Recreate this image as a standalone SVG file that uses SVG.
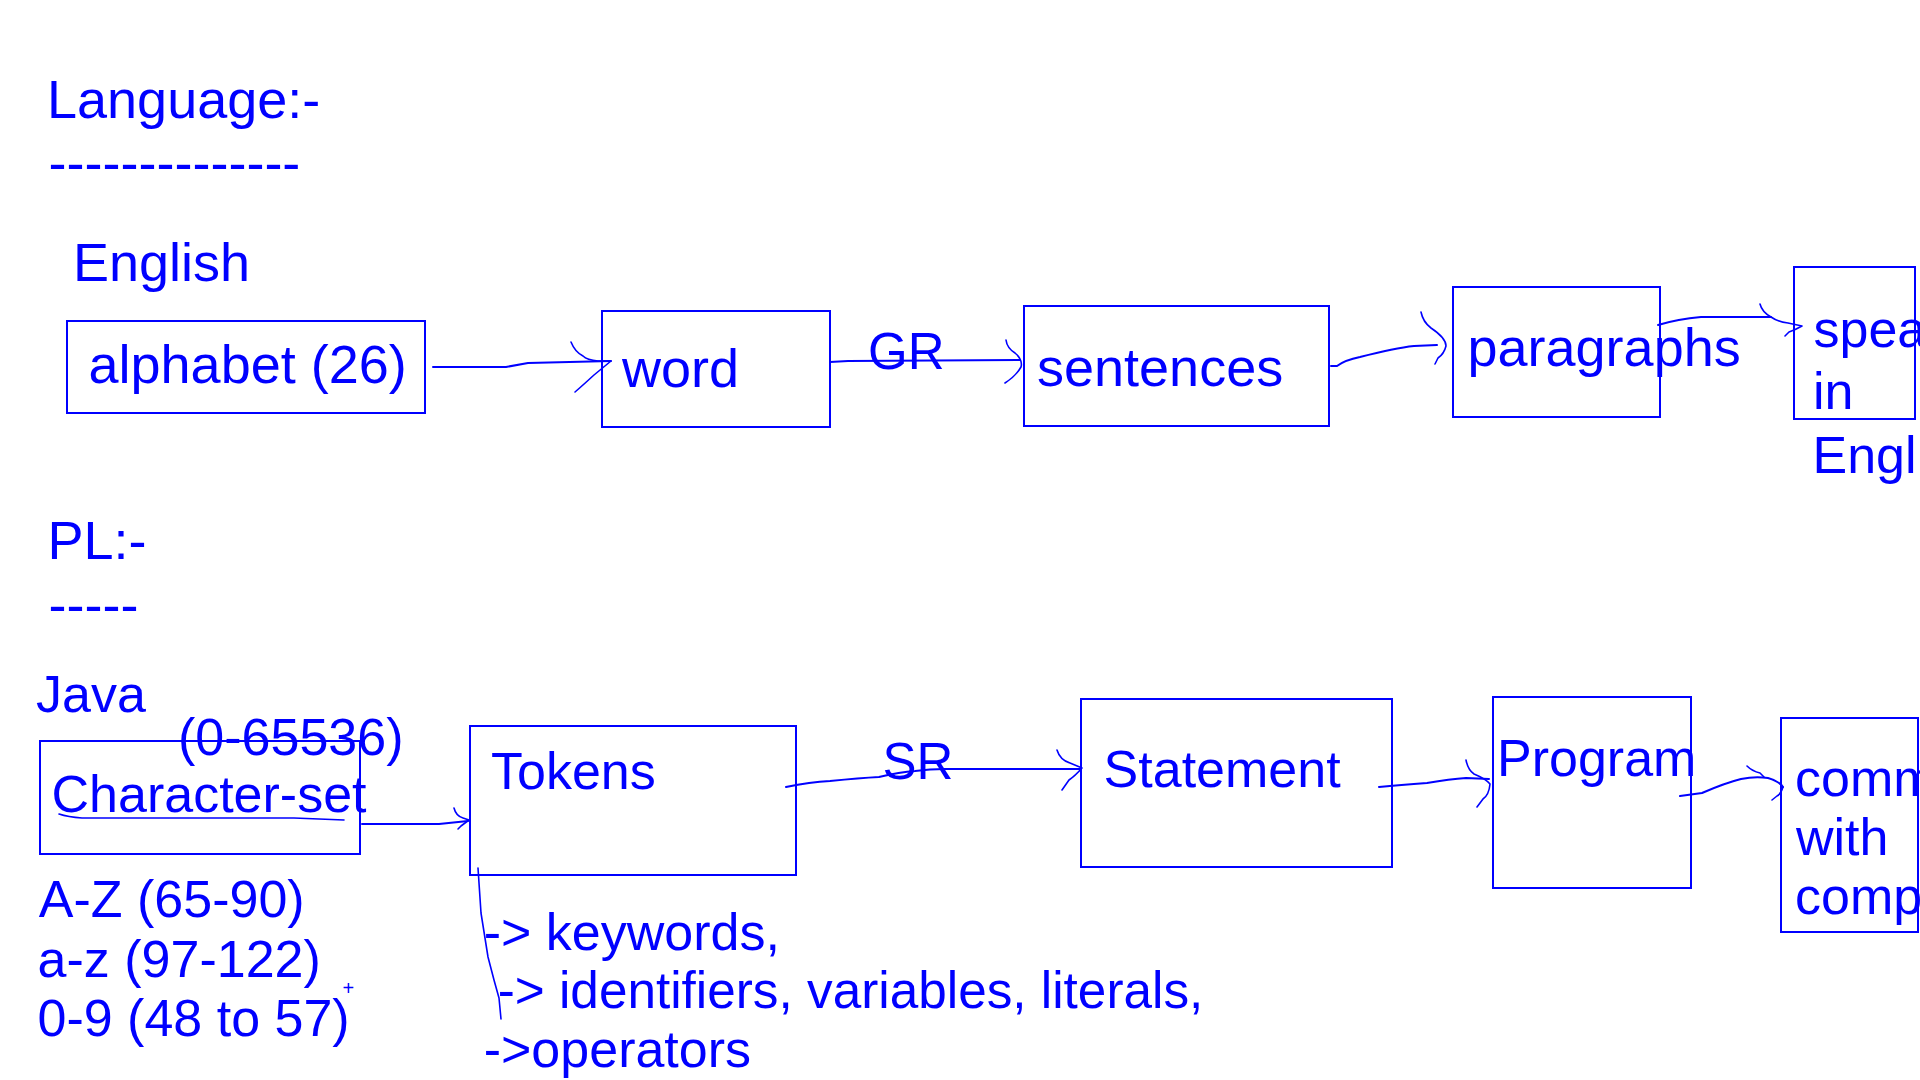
<svg xmlns="http://www.w3.org/2000/svg" width="1920" height="1080" viewBox="0 0 1920 1080">
<style>
  text { font-family: "Liberation Sans", Arial, sans-serif; fill: #0000ff; }
  .t54 { font-size: 54px; }
  .t52 { font-size: 52px; }
  .t51 { font-size: 51px; }
  .box { fill: none; stroke: #0000ff; stroke-width: 2; }
  .ink { fill: none; stroke: #0000ff; stroke-width: 2; stroke-linecap: round; stroke-linejoin: round; }
  .inkt { fill: none; stroke: #0000ff; stroke-width: 1.6; stroke-linecap: round; stroke-linejoin: round; }
</style>
<rect width="1920" height="1080" fill="#ffffff"/>

<g id="headings">
  <text class="t54" x="47" y="118">Language:-</text>
  <text class="t54" x="48.6" y="181">--------------</text>
  <text class="t54" x="73" y="281">English</text>
  <text class="t54" x="47.5" y="559">PL:-</text>
  <text class="t54" x="48.6" y="623">-----</text>
  <text class="t52" x="36" y="712">Java</text>
  <text class="t52" x="178" y="755">(0-65536)</text>
</g>

<g id="node-alphabet">
  <rect class="box" x="67" y="321" width="358" height="92"/>
  <text class="t54" x="88.5" y="383">alphabet (26)</text>
</g>
<g id="node-word">
  <rect class="box" x="602" y="311" width="228" height="116"/>
  <text class="t54" x="622" y="387">word</text>
</g>
<g id="node-sentences">
  <rect class="box" x="1024" y="306" width="305" height="120"/>
  <text class="t54" x="1037" y="386">sentences</text>
</g>
<g id="node-paragraphs">
  <rect class="box" x="1453" y="287" width="207" height="130"/>
  <text class="t54" x="1467.5" y="366">paragraphs</text>
</g>
<g id="node-speak">
  <rect class="box" x="1794" y="267" width="121" height="152"/>
  <text class="t52" x="1813.5" y="347">spea</text>
  <text class="t52" x="1813" y="409">in</text>
  <text class="t52" x="1812.5" y="473">Engl</text>
</g>

<g id="node-charset">
  <rect class="box" x="40" y="741" width="320" height="113"/>
  <text class="t52" x="51.5" y="812">Character-set</text>
</g>
<g id="charset-values">
  <text class="t52" x="38.8" y="917">A-Z (65-90)</text>
  <text class="t52" x="37.6" y="977">a-z (97-122)</text>
  <text class="t52" x="37.5" y="1036">0-9 (48 to 57)</text>
  <text x="342.5" y="995.4" style="font-size:20px">+</text>
</g>
<g id="node-tokens">
  <rect class="box" x="470" y="726" width="326" height="149"/>
  <text class="t52" x="491" y="789">Tokens</text>
</g>
<g id="token-kinds">
  <text class="t52" x="483.7" y="950">-&gt; keywords,</text>
  <text x="497.7" y="1008" style="font-size:51.3px">-&gt; identifiers, variables, literals,</text>
  <text class="t52" x="483.7" y="1067">-&gt;operators</text>
</g>
<g id="node-statement">
  <rect class="box" x="1081" y="699" width="311" height="168"/>
  <text class="t52" x="1103.6" y="787">Statement</text>
</g>
<g id="node-program">
  <rect class="box" x="1493" y="697" width="198" height="191"/>
  <text class="t52" x="1497" y="776">Program</text>
</g>
<g id="node-comm">
  <rect class="box" x="1781" y="718" width="137" height="214"/>
  <text class="t52" x="1795" y="796">comm</text>
  <text class="t52" x="1796" y="855">with</text>
  <text class="t52" x="1795" y="913.5">comp</text>
</g>

<g id="connectors">
  <!-- alphabet -> word -->
  <path class="ink" d="M433,367 L506,367 L528,363 L611,361"/>
  <path class="inkt" d="M571,342 Q575,352 583,356 Q587,360 598,361 L611,361 L594,375 Q582,386 575,392"/>
  <!-- word -> sentences -->
  <path class="ink" d="M830,362 L848,361 L1020,360"/>
  <text class="t51" x="868" y="369">GR</text>
  <path class="inkt" d="M1006,340 Q1007,348 1015,353 Q1023,360 1021,367 Q1016,376 1005,383"/>
  <!-- sentences -> paragraphs -->
  <path class="ink" d="M1331,366 L1337,366 Q1345,360 1360,357 Q1395,348 1414,346 L1437,345"/>
  <path class="inkt" d="M1421,312 Q1423,322 1431,328 Q1446,338 1446,346 Q1444,354 1438,358 L1435,364"/>
  <!-- paragraphs -> speak -->
  <path class="ink" d="M1658,325 Q1678,319 1701,317 L1771,317"/>
  <path class="inkt" d="M1760,304 Q1762,312 1771,317 Q1778,322 1788,323 L1802,326 Q1795,330 1789,332 L1785,336"/>
  <!-- Character-set underline -->
  <path class="inkt" d="M59,814 Q68,817 82,818 L294,818 L344,820"/>
  <!-- Character-set -> Tokens -->
  <path class="ink" d="M362,824 L439,824 L468,821"/>
  <path class="inkt" d="M454,808 Q456,816 463,818 L469,820 L461,826 L458,829"/>
  <!-- Tokens bracket line -->
  <path class="inkt" d="M478,868 L481,913 L488,957 L494,980 L499,998 L501,1019"/>
  <!-- Tokens -> Statement -->
  <path class="ink" d="M786,787 Q810,782 830,781 Q860,778 879,777 Q900,772 915,771 Q930,769 945,769 L1080,769"/>
  <text class="t51" x="882.6" y="779">SR</text>
  <path class="inkt" d="M1057,750 Q1060,760 1070,763 L1082,768 Q1075,776 1069,780 L1062,790"/>
  <!-- Statement -> Program -->
  <path class="ink" d="M1379,787 Q1400,785 1427,783 Q1450,779 1466,778 L1489,779"/>
  <path class="inkt" d="M1466,760 Q1468,770 1474,774 Q1486,779 1490,784 Q1489,795 1483,799 L1477,807"/>
  <!-- Program -> comm -->
  <path class="ink" d="M1680,796 L1702,793 Q1725,783 1741,779 Q1755,776 1768,778 Q1779,781 1783,787"/>
  <path class="inkt" d="M1747,766 Q1752,771 1760,773 L1764,777 M1783,787 Q1781,794 1777,796 L1772,800"/>
</g>
</svg>
